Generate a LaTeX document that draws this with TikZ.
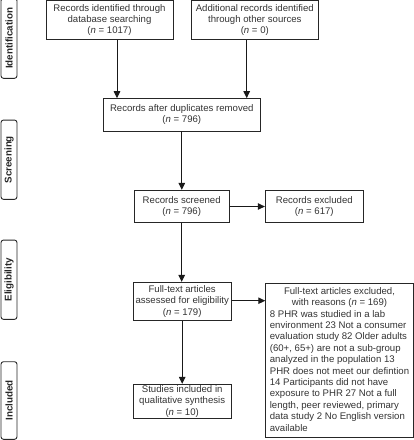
\documentclass[tikz,border=0pt]{standalone}
\usepackage{fontspec}
\setmainfont{Liberation Sans}
\usetikzlibrary{arrows.meta}
\tikzset{
  box/.style={draw=black!85, line width=0.9pt, align=center, inner sep=0pt,
    font=\fontsize{9.6pt}{11.4pt}\selectfont, text=black!80},
  side/.style={draw=black!85, line width=0.9pt, rounded corners=2.5pt, rotate=90,
    inner sep=0pt, minimum height=16pt, font=\fontsize{9.8pt}{10pt}\selectfont\bfseries, text=black!85},
  arr/.style={draw=black!90, line width=1pt, -{Triangle[length=7pt,width=6.5pt]}}
}
\begin{document}
\begin{tikzpicture}[x=1pt,y=-1pt]
\useasboundingbox (0,0) rectangle (414,440);
% side labels
\node[side, minimum width=80pt] (sid) at (9,38.3) {Identification};
\node[side, minimum width=79.3pt] (sscr) at (9,159.7) {Screening};
\node[side, minimum width=79.3pt] (seli) at (9,279.7) {Eligibility};
\node[side, minimum width=77.6pt] (sinc) at (9,400.5) {Included};
% boxes
\node[box, minimum width=127pt, minimum height=39pt] (b1) at (109.5,20)
  {Records identified through\\database searching\\(\textit{n} = 1017)};
\node[box, minimum width=126.3pt, minimum height=39pt] (b2) at (254.8,20)
  {Additional records identified\\through other sources\\(\textit{n} = 0)};
\node[box, minimum width=157pt, minimum height=32.3pt] (dup) at (181.8,114.8)
  {Records after duplicates removed\\(\textit{n} = 796)};
\node[box, minimum width=95.3pt, minimum height=32.4pt] (scr) at (181.7,206.5)
  {Records screened\\(\textit{n} = 796)};
\node[box, minimum width=98pt, minimum height=32.4pt] (exc) at (314.3,206.5)
  {Records excluded\\(\textit{n} = 617)};
\node[box, minimum width=97.7pt, minimum height=37.7pt] (full) at (182.2,301.2)
  {Full-text articles\\assessed for eligibility\\(\textit{n} = 179)};
\node[box, minimum width=147.6pt, minimum height=154.4pt] (big) at (339.5,360.5)
  {\begin{tabular}{@{}l@{}}
  \multicolumn{1}{@{}c@{}}{Full-text articles excluded,}\\
  \multicolumn{1}{@{}c@{}}{with reasons (\textit{n} = 169)}\\
  8 PHR was studied in a lab\\
  environment 23 Not a consumer\\
  evaluation study 82 Older adults\\
  (60+, 65+) are not a sub-group\\
  analyzed in the population 13\\
  PHR does not meet our defintion\\
  14 Participants did not have\\
  exposure to PHR 27 Not a full\\
  length, peer reviewed, primary\\
  data study 2 No English version\\
  available
  \end{tabular}};
\node[box, minimum width=97.7pt, minimum height=34pt] (inc) at (182.2,401.3)
  {Studies included in\\qualitative synthesis\\(\textit{n} = 10)};
% arrows
\draw[arr] ([xshift=7.5pt]b1.south) -- ([xshift=7.5pt]b1.south |- dup.north);
\draw[arr] ([xshift=-8.1pt]b2.south) -- ([xshift=-8.1pt]b2.south |- dup.north);
\draw[arr] (dup.south) -- (dup.south |- scr.north);
\draw[arr] (scr.east) -- (exc.west);
\draw[arr] (scr.south) -- (scr.south |- full.north);
\draw[arr] ([yshift=0.5pt]full.east) -- ([yshift=0.5pt]full.east -| big.west);
\draw[arr] (full.south) -- (full.south |- inc.north);
\end{tikzpicture}
\end{document}
